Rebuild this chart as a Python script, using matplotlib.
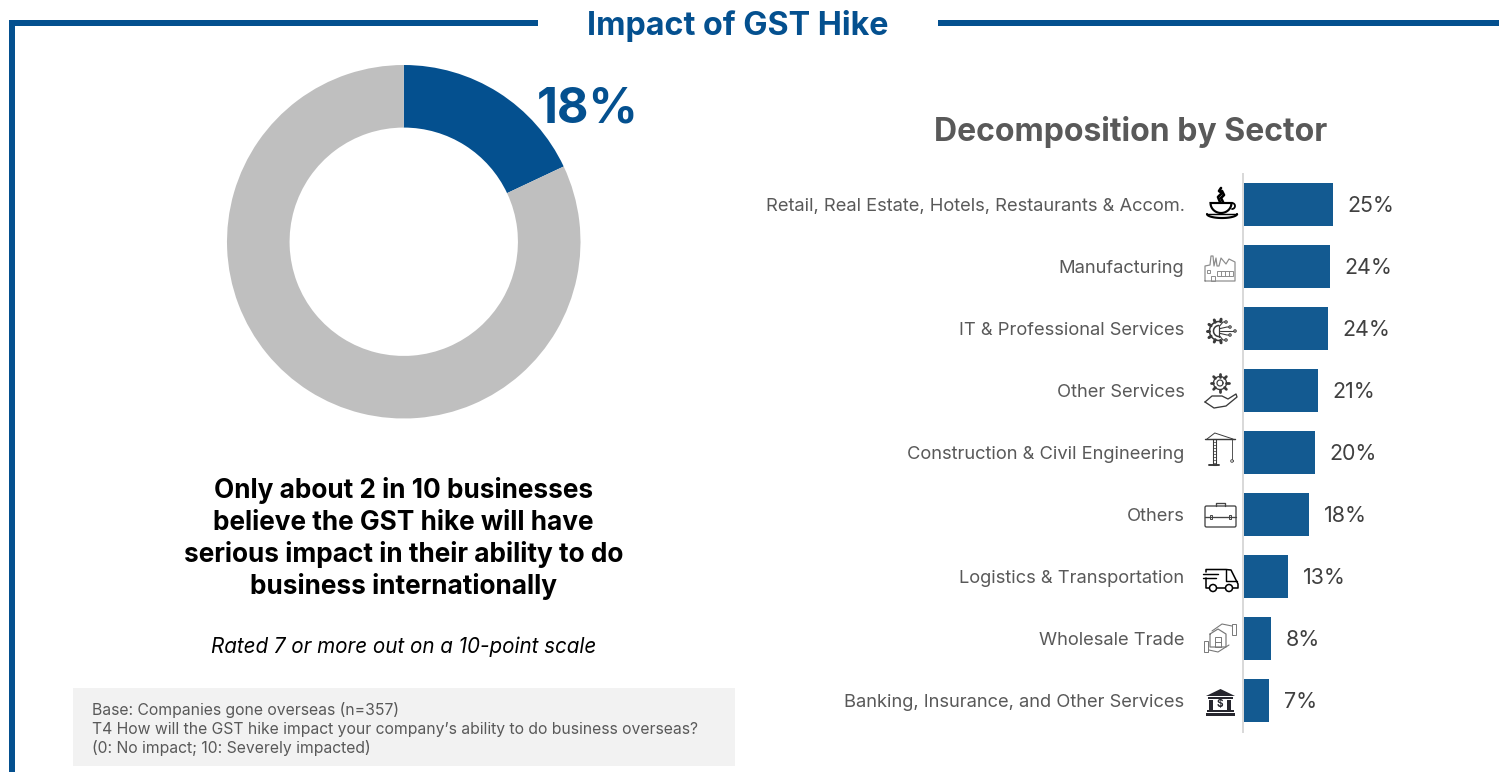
import matplotlib
matplotlib.use("Agg")
import matplotlib.pyplot as plt
from matplotlib.patches import Rectangle, Circle, Polygon, FancyBboxPatch
import numpy as np

plt.rcParams['font.family'] = ['Inter', 'DejaVu Sans']

W, H = 1499, 772
DPI = 100
NAVY = '#04508F'
BAR = '#135A91'
px = 72 / DPI  # one pixel in points

sectors = ['Retail, Real Estate, Hotels, Restaurants & Accom.', 'Manufacturing',
           'IT & Professional Services', 'Other Services',
           'Construction & Civil Engineering', 'Others',
           'Logistics & Transportation', 'Wholesale Trade',
           'Banking, Insurance, and Other Services']
sector_pct = [25.3, 24.4, 23.9, 21.0, 20.2, 18.4, 12.6, 7.6, 7.2]
impact_pct = 18
rest_pct = 82
message = ['Only about 2 in 10 businesses', 'believe the GST hike will have',
           'serious impact in their ability to do', 'business internationally']
base_notes = ['Base: Companies gone overseas (n=357)',
              'T4 How will the GST hike impact your company\u2019s ability to do business overseas?',
              '(0: No impact; 10: Severely impacted)']

fig = plt.figure(figsize=(W / DPI, H / DPI), dpi=DPI, facecolor='white')


def axes_px(x0, y0, x1, y1, **kw):
    return fig.add_axes([x0 / W, 1 - y1 / H, (x1 - x0) / W, (y1 - y0) / H], **kw)


# Page-level layer in pixel coordinates: frame, title, notes, icons
bg = axes_px(0, 0, W, H)
bg.set_xlim(0, W)
bg.set_ylim(H, 0)
bg.axis('off')

bg.add_patch(Rectangle((9, 20), 529, 6, fc=NAVY, ec='none'))
bg.add_patch(Rectangle((938, 20), 561, 6, fc=NAVY, ec='none'))
bg.add_patch(Rectangle((9, 20), 6, 752, fc=NAVY, ec='none'))
bg.text(738, 22.5, 'Impact of GST Hike', ha='center', va='center_baseline', color=NAVY,
        fontsize=32.3 * px, fontweight='bold')
bg.text(1130.5, 128.5, 'Decomposition by Sector', ha='center', va='center_baseline', color='#595959',
        fontsize=32 * px, fontweight='bold')

# Donut
donut = axes_px(227, 65, 580.5, 418.5)
donut.pie([impact_pct, rest_pct], colors=[NAVY, '#BFBFBF'], startangle=90, counterclock=False,
          radius=1, wedgeprops=dict(width=0.354, edgecolor='none'))
donut.set_xlim(-1, 1)
donut.set_ylim(-1, 1)
donut.patch.set_visible(False)
bg.text(588, 104.5, f'{impact_pct}%', ha='center', va='center_baseline', color=NAVY,
        fontsize=48.5 * px, fontweight='bold', zorder=5)

for yy, line in zip([487.5, 519.5, 551.5, 583.5], message):
    bg.text(403.5, yy, line, ha='center', va='center_baseline', color='black',
            fontsize=26.2 * px, fontweight='bold')
bg.text(403.5, 644.5, 'Rated 7 or more out on a 10-point scale', ha='center', va='center_baseline',
        color='black', fontsize=20.6 * px, fontstyle='italic')

bg.add_patch(Rectangle((73, 688), 662, 78, fc='#F2F2F2', ec='none'))
for yy, line in zip([708, 728, 747], base_notes):
    bg.text(92, yy, line, ha='left', va='center_baseline', color='#595959', fontsize=15.75 * px)

# Sector bars
ax = axes_px(1244, 173.5, 1244 + 3.53 * 40, 731.5)
ypos = np.arange(len(sectors))
ax.barh(ypos, sector_pct, height=43 / 62, color=BAR)
ax.set_xlim(0, 40)
ax.set_ylim(len(sectors) - 0.5, -0.5)
ax.patch.set_visible(False)
for s in ['top', 'right', 'bottom']:
    ax.spines[s].set_visible(False)
ax.spines['left'].set_color('#D9D9D9')
ax.spines['left'].set_linewidth(2 * px)
ax.spines['left'].set_position(('outward', 1.5 * px))
ax.xaxis.set_visible(False)
ax.set_yticks(ypos, sectors)
ax.tick_params(axis='y', length=0, pad=58 * px, labelsize=18.35 * px, labelcolor='#595959')
for y, v in zip(ypos, sector_pct):
    ax.annotate(f'{v:.0f}%', (v, y), xytext=(14.5 * px, 0), textcoords='offset points',
                ha='left', va='center_baseline', color='#404040', fontsize=21.4 * px)


# Sector pictograms, each built from simple line shapes
def ln(xs, ys, c='#333333', w=1.0):
    bg.plot(xs, ys, color=c, lw=w * px * 1.2, solid_capstyle='round', solid_joinstyle='round')


def box(x, y, w, h, c='#333333', lw=1.0, fill='none'):
    bg.add_patch(Rectangle((x, y), w, h, fc=fill, ec=c, lw=lw * px * 1.2))


def arc(cx, cy, r, a0, a1, c='#333333', w=1.0, ry=None):
    t = np.radians(np.linspace(a0, a1, 40))
    ln(cx + r * np.cos(t), cy + (ry or r) * np.sin(t), c, w)


def gear(cx, cy, r, c='#333333', w=1.0, teeth=8, a0=0, a1=360):
    for a in np.arange(a0, a1 + 0.1 if a1 - a0 < 360 else a1, (a1 - a0) / teeth):
        t = np.radians(a)
        ln([cx + r * np.cos(t), cx + (r + 2.5) * np.cos(t)],
           [cy + r * np.sin(t), cy + (r + 2.5) * np.sin(t)], c, w + 1.2)
    arc(cx, cy, r, a0, a1, c, w)


# cup and saucer
t = np.radians(np.linspace(0, 180, 30))
bg.add_patch(Polygon(np.c_[1221 + 10.5 * np.cos(t), 203 + 10 * np.sin(t)], fc='none', ec='black', lw=1.8 * px * 1.2))
arc(1232, 206, 3, -90, 90, 'black', 1.5)
arc(1222, 214, 15, 0, 180, 'black', 1.8, ry=4)
ln([1207, 1237], [214, 214], 'black', 1.2)
ln([1220, 1218, 1222, 1219, 1221], [202, 197, 193, 191, 188], 'black', 2.2)
ln([1223, 1221, 1224, 1222], [202, 198, 195, 191], 'black', 2.2)

# factory
g = '#8C8C8C'
ln([1205, 1205, 1210, 1211, 1213, 1214, 1216, 1217, 1219, 1221, 1226, 1229, 1235, 1235, 1205],
   [281, 266, 265, 256, 256, 266, 258, 266, 266, 258, 264, 259, 262, 281, 281], g, 1.0)
box(1217, 271, 16, 5, g, 0.8)
for xx in (1221, 1225, 1229):
    ln([xx, xx], [271, 276], g, 0.8)
box(1211, 276, 4, 5, g, 0.8)
box(1207, 270, 3, 3, g, 0.8)

# half gear with circuit traces
c = '#3A3A3A'
gear(1219, 331, 9.5, c, 1.3, teeth=6, a0=80, a1=280)
arc(1219, 331, 5.5, 90, 270, c, 1.3)
ln([1219, 1219], [325.5, 336.5], c, 1.0)
for dy, xe in [(-9, 1226), (-4, 1230), (0, 1235), (4, 1230), (9, 1226)]:
    ln([1220, xe - 3, xe], [331 + dy * 0.6, 331 + dy, 331 + dy], c, 0.9)
    bg.add_patch(Circle((xe, 331 + dy), 1.2, fc='white', ec=c, lw=0.8, zorder=3))

# gear above an open hand
gear(1220, 383, 6.5, c, 1.1, teeth=8)
arc(1220, 383, 3, 0, 360, c, 1.0)
ln([1205, 1212, 1222, 1228, 1236, 1237, 1226, 1214, 1205],
   [402, 396, 396, 399, 394, 397, 406, 408, 402], c, 1.1)

# tower crane
ln([1205, 1235], [439, 439], c, 1.2)
box(1213, 439, 3.5, 26, c, 0.9)
for yy in np.arange(442, 465, 3):
    ln([1213, 1216.5], [yy, yy], c, 0.6)
ln([1209, 1219], [465, 465], c, 1.6)
ln([1207, 1214.8, 1233], [439, 433, 439], c, 0.8)
ln([1232, 1232], [439, 459], c, 0.7)
arc(1232, 461, 1.3, 0, 360, c, 0.7)

# briefcase
bg.add_patch(FancyBboxPatch((1205, 506), 31, 21, boxstyle='round,pad=0,rounding_size=1.5',
                            fc='none', ec='#444444', lw=1.1 * px * 1.2))
ln([1216, 1216, 1225, 1225], [506, 502.5, 502.5, 506], '#444444', 1.1)
ln([1205, 1236], [517, 517], '#444444', 1.1)
box(1210, 515, 2, 4, '#444444', 0.8)
box(1229, 515, 2, 4, '#444444', 0.8)

# delivery van
ln([1206, 1206, 1226, 1231, 1238, 1238, 1233], [572, 569.5, 569.5, 570, 584, 588, 588], 'black', 1.3)
ln([1226, 1226, 1237], [569.5, 581, 581], 'black', 1.2)
ln([1203, 1218], [574, 574], 'black', 1.2)
ln([1203, 1216], [578, 578], 'black', 1.2)
ln([1206, 1206, 1210], [578, 588, 588], 'black', 1.3)
ln([1217, 1225], [588, 588], 'black', 1.3)
bg.add_patch(Circle((1213, 588), 3.5, fc='white', ec='black', lw=1.3 * px * 1.2, zorder=4))
bg.add_patch(Circle((1229, 588), 3.5, fc='white', ec='black', lw=1.3 * px * 1.2, zorder=4))

# warehouse held between two hands
g2 = '#777777'
ln([1210, 1218, 1226, 1226, 1210, 1210], [634, 629, 634, 647, 647, 634], g2, 1.0)
box(1215, 637, 6, 10, g2, 0.8)
ln([1215, 1221], [642, 642], g2, 0.8)
box(1232, 624, 4.5, 11, g2, 0.8)
box(1204, 641, 4.5, 11, g2, 0.8)
ln([1232, 1222, 1212], [626, 624, 631], g2, 0.9)
ln([1209, 1218, 1229], [650, 652, 645], g2, 0.9)

# bank building with dollar sign
k = '#26262E'
bg.add_patch(Polygon([(1206, 696), (1220.5, 689), (1235, 696)], fc=k, ec='none'))
bg.add_patch(Rectangle((1208, 697), 25, 1.5, fc=k, ec='none'))
bg.add_patch(Rectangle((1209, 699.5), 4.5, 10, fc=k, ec='none'))
bg.add_patch(Rectangle((1227, 699.5), 4.5, 10, fc=k, ec='none'))
bg.text(1220.3, 704.5, '$', ha='center', va='center', fontsize=10 * px, color=k, fontweight='bold')
bg.add_patch(Rectangle((1207, 710), 27, 2, fc=k, ec='none'))
bg.add_patch(Rectangle((1206, 712.5), 29, 3.5, fc=k, ec='none'))

fig.savefig('out.png', dpi=DPI, facecolor='white')
